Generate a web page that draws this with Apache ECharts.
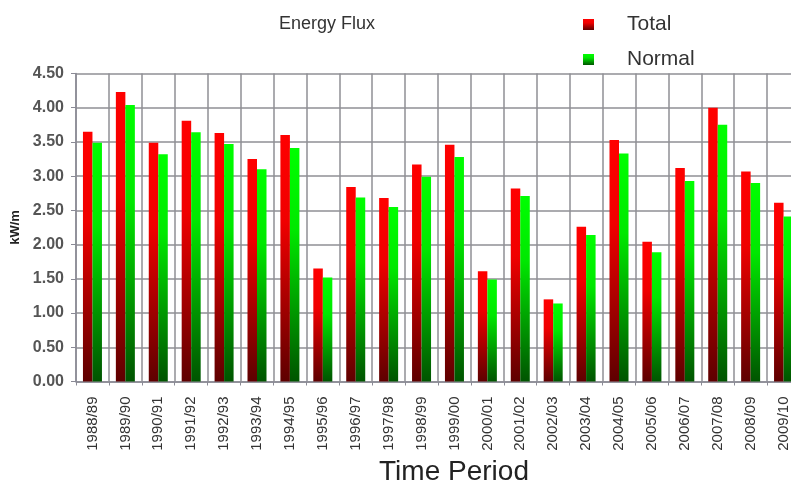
<!DOCTYPE html>
<html>
<head>
<meta charset="utf-8">
<script src="https://cdn.jsdelivr.net/npm/echarts@6/dist/echarts.min.js"></script>
<style>
html,body{margin:0;padding:0;background:#fff;}
#c{width:791px;height:480px;}
</style>
</head>
<body>
<div id="c"></div>
<script>
var categories = ['1988/89','1989/90','1990/91','1991/92','1992/93','1993/94','1994/95','1995/96','1996/97','1997/98','1998/99','1999/00','2000/01','2001/02','2002/03','2003/04','2004/05','2005/06','2006/07','2007/08','2008/09','2009/10'];
var totalValues = [3.65,4.23,3.49,3.81,3.63,3.25,3.60,1.65,2.84,2.68,3.17,3.46,1.61,2.82,1.20,2.26,3.53,2.04,3.12,4.00,3.07,2.61];
var normalValues = [3.49,4.04,3.32,3.64,3.47,3.10,3.41,1.52,2.69,2.55,2.99,3.28,1.49,2.71,1.14,2.14,3.33,1.89,2.93,3.75,2.90,2.41];
var yTicks = [0,0.5,1,1.5,2,2.5,3,3.5,4,4.5];

var redGrad = new echarts.graphic.LinearGradient(0,0,0,1,[
  {offset:0,color:'#ff0000'},{offset:0.35,color:'#f00000'},{offset:1,color:'#5e0000'}]);
var greenGrad = new echarts.graphic.LinearGradient(0,0,0,1,[
  {offset:0,color:'#00ff00'},{offset:0.35,color:'#00e800'},{offset:1,color:'#005400'}]);

var FONT = 'Liberation Sans, Arial, sans-serif';
var chart = echarts.init(document.getElementById('c'), null, {renderer:'canvas'});
chart.setOption({
  animation:false,
  backgroundColor:'#ffffff',
  title:{text:'Energy Flux', left:274, top:10,
    textStyle:{fontFamily:FONT, fontSize:18, fontWeight:'normal', color:'#333'}},
  legend:{
    orient:'vertical', left:578, top:9, itemWidth:11, itemHeight:11, itemGap:14,
    icon:'rect',
    textStyle:{fontFamily:FONT, fontSize:21, color:'#333', padding:[0,0,0,28]},
    data:['Total','Normal']
  },
  grid:{left:76, top:73.5, width:724, height:308, containLabel:false, outerBoundsMode:'none'},
  xAxis:{
    type:'category', data:categories,
    name:'Time Period', nameLocation:'middle', nameGap:71,
    nameTextStyle:{fontFamily:FONT, fontSize:28, color:'#222', padding:[0,0,0,32]},
    axisLine:{lineStyle:{color:'#8a8a95', width:1.5}},
    axisTick:{show:true, length:4, lineStyle:{color:'#8a8a95'}},
    axisLabel:{rotate:90, interval:0, margin:15, fontFamily:FONT, fontSize:15, color:'#333'},
    splitLine:{show:true, interval:0, lineStyle:{color:'#8f8f95', width:1.5}}
  },
  yAxis:{
    type:'value', min:0, max:4.5, interval:0.5,
    name:'kW/m', nameLocation:'middle', nameGap:53, nameRotate:90,
    nameTextStyle:{fontFamily:FONT, fontSize:13, fontWeight:'bold', color:'#222'},
    axisLine:{show:true, lineStyle:{color:'#8a8a95', width:1.5}},
    axisTick:{show:true, length:5, lineStyle:{color:'#8a8a95'}},
    axisLabel:{formatter:function(v){return v.toFixed(2);}, margin:12, fontFamily:FONT, fontSize:16, fontWeight:'bold', color:'#555'},
    splitLine:{show:true, lineStyle:{color:'#8f8f95', width:1.5}}
  },
  series:[
    {name:'Total', type:'bar', data:totalValues, barWidth:9.5, barGap:'0%', itemStyle:{color:redGrad}},
    {name:'Normal', type:'bar', data:normalValues, barWidth:9.5, barGap:'0%', itemStyle:{color:greenGrad}}
  ]
});
</script>
</body>
</html>
